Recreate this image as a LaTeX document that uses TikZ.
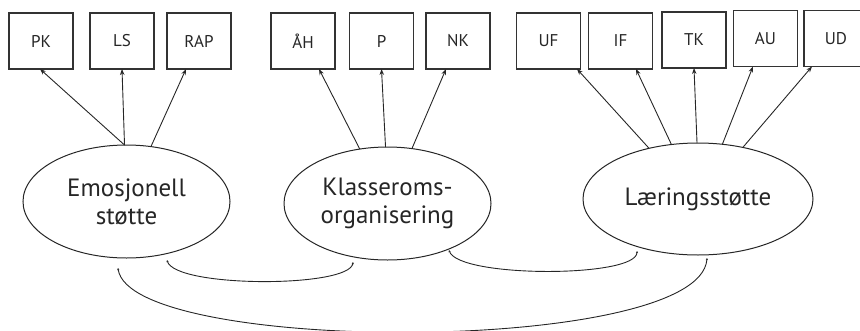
\documentclass[tikz,border=0pt]{standalone}
\usepackage{fontspec}
\setmainfont{PT Sans}
\usetikzlibrary{arrows.meta,shapes.geometric,calc}
\begin{document}
\begin{tikzpicture}[x=1pt,y=-1pt,
  box/.style={draw=black!80,line width=1.1pt,minimum width=64pt,minimum height=56pt,inner sep=0pt,outer sep=0pt,font=\fontsize{17}{20}\selectfont,text=black!85},
  oval/.style={draw=black!85,line width=1pt,ellipse,inner sep=0pt,outer sep=0pt,font=\fontsize{25}{28}\selectfont,align=center,text=black!85},
  arr/.style={-{Stealth[length=6pt,width=4.5pt]},line width=0.9pt,draw=black!85},
  link/.style={{Stealth[length=2.2pt,width=2.2pt]}-{Stealth[length=2.2pt,width=2.2pt]},line width=0.9pt,draw=black!85}
]
\useasboundingbox (0,0) rectangle (860,330);
% boxes
\node[box] (PK) at (41,41) {PK};
\node[box] (LS) at (122,41) {LS};
\node[box] (RAP) at (199,41) {RAP};
\node[box] (AH) at (303,41) {ÅH};
\node[box] (P) at (381.5,41) {P};
\node[box] (NK) at (458,41) {NK};
\node[box] (UF) at (548.5,41) {UF};
\node[box] (IF) at (620.5,41) {IF};
\node[box] (TK) at (694,40) {TK};
\node[box] (AU) at (765.5,38.5) {AU};
\node[box] (UD) at (836,38.5) {UD};
% ellipses
\node[oval,minimum width=207pt,minimum height=113pt] (E) at (126.5,201.5) {Emosjonell\\støtte};
\node[oval,minimum width=207pt,minimum height=113pt] (K) at (387.5,203.5) {Klasseroms-\\organisering};
\node[oval,minimum width=230pt,minimum height=112pt] (L) at (698,199) {Læringsstøtte};
% arrows
\draw[arr] (E.92) -- ([xshift=-1pt]PK.south);
\draw[arr] (E.92) -- (LS.south);
\draw[arr] (E.66) -- ([xshift=-13pt]RAP.south);
\draw[arr] (K.117) -- ([xshift=16pt]AH.south);
\draw[arr] (K.92) -- (P.south);
\draw[arr] (K.66) -- ([xshift=-12pt]NK.south);
\draw[arr] (L.134) -- ([xshift=28.5pt]UF.south);
\draw[arr] (L.116) -- ([xshift=15.5pt]IF.south);
\draw[arr] (L.91) -- (TK.south);
\draw[arr] (L.66) -- ([xshift=-12.5pt]AU.south);
\draw[arr] (L.49) -- ([xshift=-24pt]UD.south);
% connecting arcs
\draw[link] ($(E.center)+(40.5,58.5)$) .. controls ($(E.center)+(48.5,86.5)$) and ($(K.center)+(-37.5,84.5)$) .. ($(K.center)+(-34.5,58.5)$);
\draw[link] ($(K.center)+(61.5,46.5)$) .. controls ($(K.center)+(70.5,74.5)$) and ($(L.center)+(-61,79)$) .. ($(L.center)+(-61,52)$);
\draw[link] ($(E.center)+(-8.5,66.5)$) .. controls ($(E.center)+(3.5,153.5)$) and ($(L.center)+(2,156)$) .. ($(L.center)+(9,59)$);
\end{tikzpicture}
\end{document}
